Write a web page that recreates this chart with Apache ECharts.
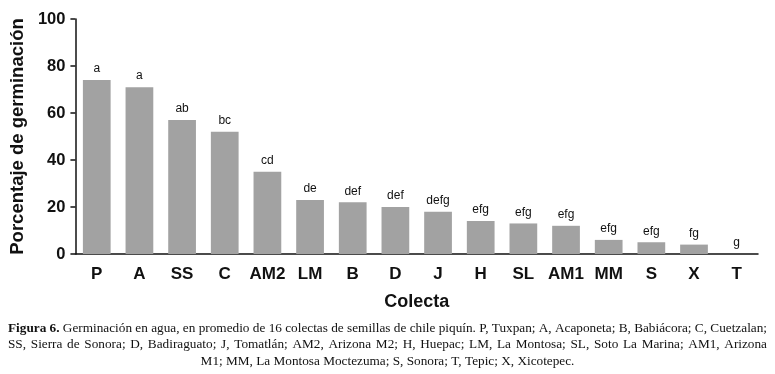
<!DOCTYPE html>
<html><head><meta charset="utf-8">
<script src="https://cdn.jsdelivr.net/npm/echarts@6/dist/echarts.min.js"></script>
<style>html,body{margin:0;padding:0;background:#fff}#c{width:775px;height:374px}</style>
</head><body><div id="c"></div>
<script>
const categories = ['P','A','SS','C','AM2','LM','B','D','J','H','SL','AM1','MM','S','X','T'];
const values = [74,71,57,52,35,23,22,20,18,14,13,12,6,5,4,0];
const groups = ['a','a','ab','bc','cd','de','def','def','defg','efg','efg','efg','efg','efg','fg','g'];
const yTicks = [0,20,40,60,80,100];
const yTitle = 'Porcentaje de germinación';
const xTitle = 'Colecta';
const captionLines = [
  'Figura 6. Germinación en agua, en promedio de 16 colectas de semillas de chile piquín. P, Tuxpan; A, Acaponeta; B, Babiácora; C, Cuetzalan;',
  'SS, Sierra de Sonora; D, Badiraguato; J, Tomatlán; AM2, Arizona M2; H, Huepac; LM, La Montosa; SL, Soto La Marina; AM1, Arizona',
  'M1; MM, La Montosa Moctezuma; S, Sonora; T, Tepic; X, Xicotepec.'
];

const SANS = '"Liberation Sans", Arial, sans-serif';
const SERIF = '"Liberation Serif", "Times New Roman", serif';
const capLeft = 8, capRight = 767;
const capY = [328.5, 345, 361.5];

const cv = document.createElement('canvas').getContext('2d');
function measure(t, bold, size){ cv.font = (bold?'bold ':'') + size + 'px ' + SERIF; return cv.measureText(t).width; }

// choose a font size so that the widest justified line fits with normal spacing
let capSize = 20;
for (let li = 0; li < captionLines.length - 1; li++) {
  const w = measure(captionLines[li].slice(10), false, 13) + measure('Figura 6. ', true, 13);
  capSize = Math.min(capSize, 13 * (capRight - capLeft) / w);
}
capSize = Math.min(capSize, 14);

const graphics = [];
captionLines.forEach((line, li) => {
  if (li < captionLines.length - 1) {
    const words = line.split(' ');
    const bolds = words.map((w,i)=> li===0 && i<2);
    const widths = words.map((w,i)=>measure(w,bolds[i],capSize));
    const total = widths.reduce((a,b)=>a+b,0);
    const gap = (capRight - capLeft - total)/(words.length-1);
    let x = capLeft;
    words.forEach((w,i)=>{
      graphics.push({type:'text', x:x, y:capY[li], style:{text:w, fontFamily:SERIF, fontSize:capSize, fontWeight:bolds[i]?'bold':'normal', fill:'#111', align:'left', verticalAlign:'middle'}});
      x += widths[i] + gap;
    });
  } else {
    graphics.push({type:'text', x:(capLeft+capRight)/2, y:capY[li], style:{text:line, fontFamily:SERIF, fontSize:capSize, fill:'#111', align:'center', verticalAlign:'middle'}});
  }
});

const chart = echarts.init(document.getElementById('c'), null, {renderer:'canvas'});
chart.setOption({
  animation:false,
  backgroundColor:'#fff',
  grid:{left:70, right:17, top:19, bottom:120, containLabel:false},
  xAxis:{
    type:'category', data:categories, boundaryGap:true,
    axisLine:{lineStyle:{color:'#111', width:1.5}},
    axisTick:{alignWithLabel:true, length:5, lineStyle:{color:'#111', width:1.5}},
    axisLabel:{fontFamily:SANS, fontWeight:'bold', fontSize:17, color:'#111', margin:12, interval:0},
    name:xTitle, nameLocation:'middle', nameGap:39,
    nameTextStyle:{fontFamily:SANS, fontWeight:'bold', fontSize:18, color:'#111'}
  },
  yAxis:{
    type:'value', min:yTicks[0], max:yTicks[yTicks.length-1], interval:yTicks[1]-yTicks[0],
    axisLine:{show:true, lineStyle:{color:'#111', width:1.5}},
    axisTick:{show:true, length:5, lineStyle:{color:'#111', width:1.5}},
    splitLine:{show:false},
    axisLabel:{fontFamily:SANS, fontWeight:'bold', fontSize:16.5, color:'#111', margin:10},
    name:yTitle, nameLocation:'middle', nameGap:44, nameRotate:90,
    nameTextStyle:{fontFamily:SANS, fontWeight:'bold', fontSize:18.5, color:'#111'}
  },
  series:[{
    type:'bar', data:values, barWidth:'65%',
    itemStyle:{color:'#a2a2a2'},
    label:{show:true, position:'top', distance:5, fontFamily:SANS, fontSize:12, color:'#111',
      formatter:p=>groups[p.dataIndex]}
  }],
  graphic:graphics
});
</script></body></html>
